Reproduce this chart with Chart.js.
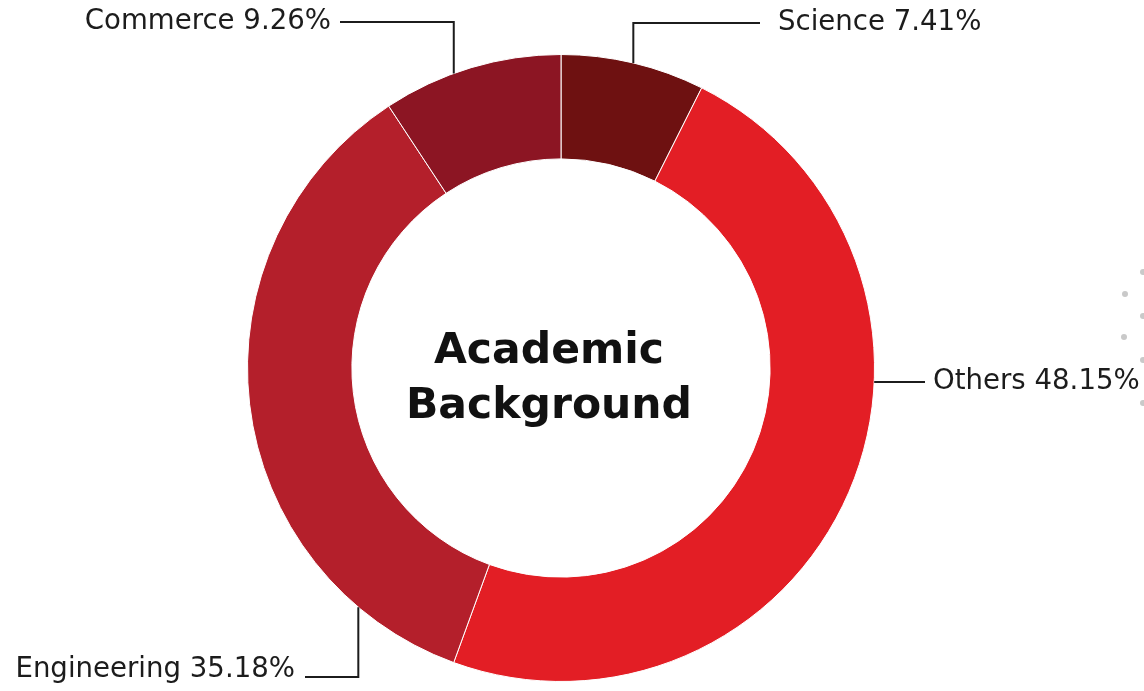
<!DOCTYPE html>
<html>
<head>
<meta charset="utf-8">
<script src="https://cdn.jsdelivr.net/npm/chart.js@4.4.1/dist/chart.umd.min.js"></script>
<style>
  html, body { margin: 0; padding: 0; background: #fff; }
  #wrap { width: 1144px; height: 691px; position: relative; }
</style>
</head>
<body>
<div id="wrap"><canvas id="chart" width="1144" height="691"></canvas></div>
<script>
const categories = ['Science', 'Others', 'Engineering', 'Commerce'];
const shares = [7.41, 48.15, 35.18, 9.26];
const sliceColors = ['#6e1111', '#e31e25', '#b41f2b', '#8c1523'];
const centerTitle = ['Academic', 'Background'];

// leader lines: "at" = where on the slice's outer edge the line starts (0..1)
const callouts = [
  { at: 0.5, y: 23, x: 760, gap: 18 },   // Science
  { at: 0.38, x: 925, gap: 8 },          // Others
  { at: 0.16, y: 677, x: 305, gap: 10, dy: -7 }, // Engineering
  { at: 0.4, y: 22, x: 340, gap: 9 }     // Commerce
];

// faint halftone dots cut off at the right edge
const bgDots = [[1143, 272], [1125, 294], [1143, 316], [1124, 337], [1143, 360], [1143, 403]];

const decorPlugin = {
  id: 'decor',
  beforeDraw(chart) {
    const ctx = chart.ctx;
    ctx.save();
    ctx.fillStyle = '#c9c9c9';
    bgDots.forEach(([x, y]) => {
      ctx.beginPath();
      ctx.arc(x, y, 3, 0, Math.PI * 2);
      ctx.fill();
    });
    ctx.restore();
  },
  afterDatasetsDraw(chart) {
    const ctx = chart.ctx;
    const meta = chart.getDatasetMeta(0);
    ctx.save();
    ctx.strokeStyle = '#1c1c1c';
    ctx.fillStyle = '#1c1c1c';
    ctx.lineWidth = 2;
    ctx.lineJoin = 'miter';
    ctx.font = '27.6px "DejaVu Sans"';
    ctx.textBaseline = 'middle';

    meta.data.forEach((arc, i) => {
      const c = callouts[i];
      const a = arc.startAngle + c.at * (arc.endAngle - arc.startAngle);
      const ax = arc.x + Math.cos(a) * arc.outerRadius;
      const ay = arc.y + Math.sin(a) * arc.outerRadius;
      const ly = c.y != null ? c.y : ay;
      ctx.beginPath();
      ctx.moveTo(ax, ay);
      if (c.y != null) ctx.lineTo(ax, c.y);
      ctx.lineTo(c.x, ly);
      ctx.stroke();
      const left = c.x < ax;
      ctx.textAlign = left ? 'right' : 'left';
      const label = categories[i] + ' ' + shares[i].toFixed(2) + '%';
      ctx.fillText(label, c.x + (left ? -c.gap : c.gap), ly + (c.dy || 0));
    });

    // title in the hole, sits a little left of the ring centre
    const cx = meta.data[0].x - 12, cy = meta.data[0].y;
    ctx.font = 'bold 42.5px "DejaVu Sans"';
    ctx.textAlign = 'center';
    ctx.textBaseline = 'alphabetic';
    ctx.fillStyle = '#111';
    ctx.fillText(centerTitle[0], cx, cy - 5);
    ctx.fillText(centerTitle[1], cx, cy + 50);
    ctx.restore();
  }
};

new Chart(document.getElementById('chart'), {
  type: 'doughnut',
  data: {
    labels: categories,
    datasets: [{
      data: shares,
      backgroundColor: sliceColors,
      borderColor: '#ffffff',
      borderWidth: 1
    }]
  },
  options: {
    responsive: false,
    animation: false,
    cutout: '66.7%',
    layout: { padding: { left: 247, top: 54, right: 269, bottom: 9 } },
    plugins: {
      legend: { display: false },
      tooltip: { enabled: false }
    }
  },
  plugins: [decorPlugin]
});
</script>
</body>
</html>
